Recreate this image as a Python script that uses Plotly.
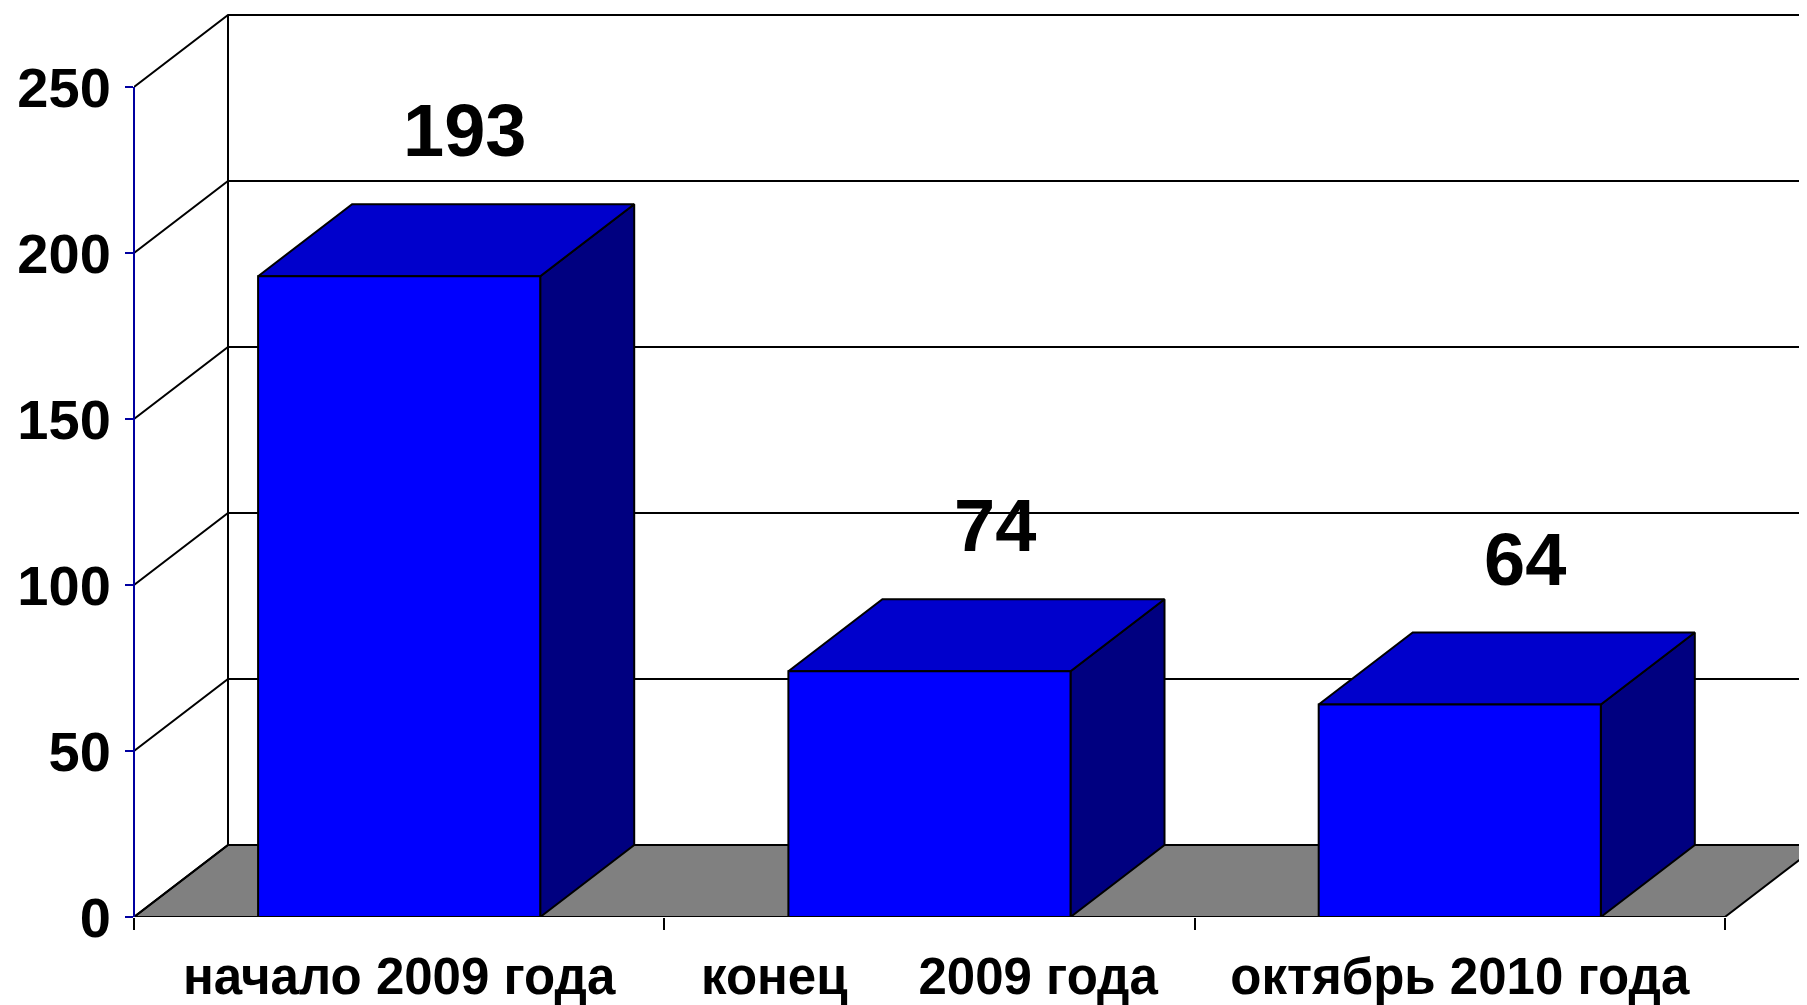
import plotly.graph_objects as go

# ---- data ----
categories = ["начало 2009 года", "конец\u00a0\u00a0\u00a0\u00a0 2009 года", "октябрь 2010 года"]
values = [193, 74, 64]
y_ticks = [0, 50, 100, 150, 200, 250]
y_tick_labels = ["0", "50", "100", "150", "200", "250"]

# ---- geometry / style ----
PAGE_OFF = 8            # default body margin of the html page
W, H = 1807 - PAGE_OFF, 1005
ML = 134 - PAGE_OFF
PLOT_BOTTOM = 917 - PAGE_OFF
MB = H - PLOT_BOTTOM
PX_CAT = 530.3          # pixels per category
PX_UNIT = 3.32          # pixels per value unit
x_range = [-0.5, -0.5 + (W - ML) / PX_CAT]
y_range = [0, PLOT_BOTTOM / PX_UNIT]
DX = 94 / PX_CAT        # depth offset (x, category units)
DY = 72 / PX_UNIT       # depth offset (y, value units)
HALF = 0.266            # half bar width
FONT = "Liberation Sans, Arial, sans-serif"
FRONT, TOP, SIDE = "#0000FF", "#0000CC", "#000080"
AXIS_BLUE = "#0000A0"
n = len(categories)

fig = go.Figure()

# floor
fig.add_trace(go.Scatter(
    x=[-0.5, n - 0.5, n - 0.5 + DX, -0.5 + DX, -0.5],
    y=[0, 0, DY, DY, 0],
    fill="toself", fillcolor="#808080", mode="lines",
    line=dict(color="black", width=2), hoverinfo="skip", showlegend=False))

# walls: side-wall diagonals + back-wall gridlines
gx, gy = [], []
for v in y_ticks:
    gx += [-0.5, -0.5 + DX, n + 1, None]
    gy += [v, v + DY, v + DY, None]
gx += [-0.5 + DX, -0.5 + DX, None]
gy += [DY, y_ticks[-1] + DY, None]
fig.add_trace(go.Scatter(x=gx, y=gy, mode="lines", line=dict(color="black", width=2),
                         hoverinfo="skip", showlegend=False))

# bars
fx, fy, tx, ty, sx, sy = [], [], [], [], [], []
for i, v in enumerate(values):
    x0, x1 = i - HALF, i + HALF
    fx += [x0, x1, x1, x0, x0, None]
    fy += [0, 0, v, v, 0, None]
    tx += [x0, x1, x1 + DX, x0 + DX, x0, None]
    ty += [v, v, v + DY, v + DY, v, None]
    sx += [x1, x1 + DX, x1 + DX, x1, x1, None]
    sy += [0, DY, v + DY, v, 0, None]
for xs, ys, col in [(sx, sy, SIDE), (tx, ty, TOP), (fx, fy, FRONT)]:
    fig.add_trace(go.Scatter(x=xs, y=ys, fill="toself", fillcolor=col, mode="lines",
                             line=dict(color="black", width=2), hoverinfo="skip",
                             showlegend=False))

# value labels
for i, v in enumerate(values):
    fig.add_annotation(x=i + DX / 2 + 0.035, y=v + DY + 9, text=str(v), showarrow=False,
                       xanchor="center", yanchor="bottom",
                       font=dict(family=FONT, size=74, color="black", weight="bold"))

# front vertical axis line
fig.add_shape(type="line", xref="paper", yref="y", x0=0, x1=0, y0=0, y1=y_ticks[-1],
              line=dict(color=AXIS_BLUE, width=2))

fig.update_layout(
    width=W, height=H, autosize=False,
    margin=dict(l=ML, r=0, t=0, b=MB, autoexpand=False),
    paper_bgcolor="white", plot_bgcolor="white",
    showlegend=False,
    xaxis=dict(range=x_range, tickmode="array", tickvals=list(range(n)), ticktext=categories,
               ticks="outside", ticklen=15, tickcolor="rgba(0,0,0,0)", automargin=False,
               tickfont=dict(family=FONT, size=51, color="black", weight="bold"),
               showgrid=False, zeroline=False, showline=False, fixedrange=True,
               minor=dict(tickmode="linear", tick0=-0.5, dtick=1, ticks="outside",
                          ticklen=12, tickwidth=2, tickcolor="black", showgrid=False)),
    yaxis=dict(range=y_range, tickmode="array", tickvals=y_ticks, ticktext=y_tick_labels,
               ticks="outside", ticklen=8, tickwidth=2, tickcolor=AXIS_BLUE,
               ticklabelstandoff=3, automargin=False,
               tickfont=dict(family=FONT, size=56, color="black", weight="bold"),
               showgrid=False, zeroline=False, showline=False, fixedrange=True),
)

fig.write_html("out.html")
